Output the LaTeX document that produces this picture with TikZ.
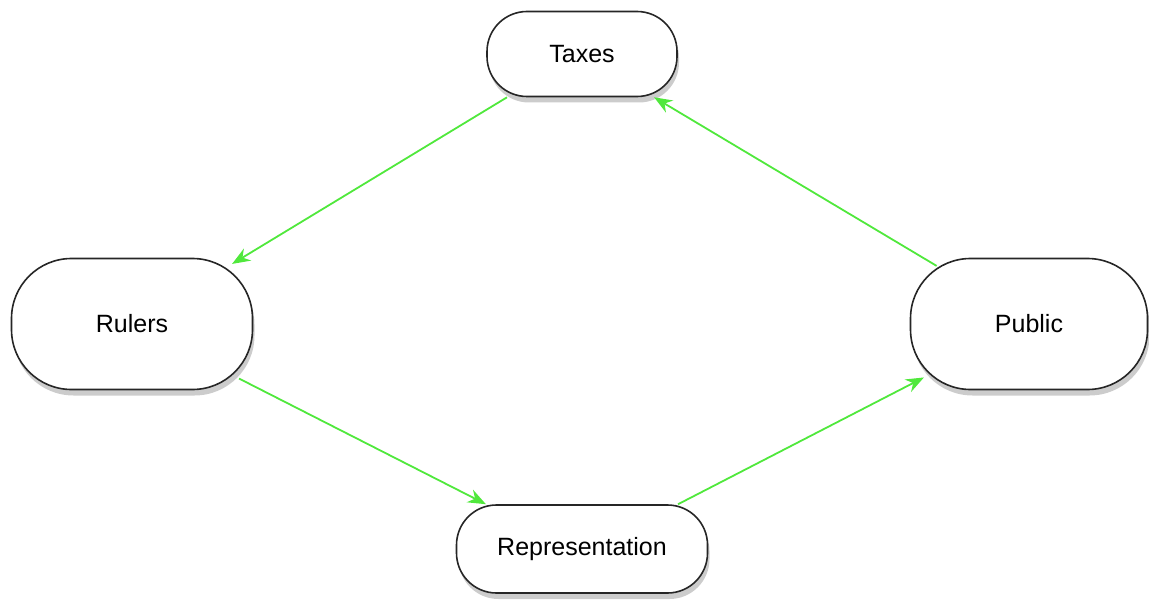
\documentclass[tikz,border=0pt]{standalone}
\usepackage{fontspec}
\setmainfont{Liberation Sans}
\usepackage{tikz}
\usetikzlibrary{shapes, arrows, arrows.meta, shadows}
\definecolor{flowgreen}{RGB}{80,232,60}
\tikzstyle{entity} = [rectangle, rounded corners=20pt, text centered, draw=black!85, line width=0.8pt, fill=white, font=\fontsize{12.5}{15}\selectfont, drop shadow={shadow xshift=1pt, shadow yshift=-3pt, opacity=0.4}]
\tikzstyle{bigentity} = [entity, rounded corners=30pt]
\tikzstyle{arrow} = [line width=0.9pt, draw=flowgreen, -{Stealth[length=9pt, width=7pt]}]

\begin{document}
\begin{tikzpicture}[x=0.5pt, y=-0.5pt]
    \useasboundingbox (0,0) rectangle (1149,599);
    \node (taxes) [entity, minimum width=95pt, minimum height=42.5pt] at (582,54) {Taxes};
    \node (rulers) [bigentity, minimum width=120.5pt, minimum height=65.5pt] at (132,324) {Rulers};
    \node (public) [bigentity, minimum width=118.5pt, minimum height=65.5pt] at (1029,324) {Public};
    \node (repr) [entity, minimum width=125.5pt, minimum height=44pt] at (582,549) {Representation};

    \draw [arrow, shorten >=-6pt] (taxes.210) -- (rulers.31);
    \draw [arrow, shorten <=-8pt] (rulers.-27) -- (repr.155);
    \draw [arrow, shorten >=-8pt] (repr.25) -- (public.207.5);
    \draw [arrow, shorten <=-8pt] (public.148.5) -- (taxes.-31);

\end{tikzpicture}
\end{document}
